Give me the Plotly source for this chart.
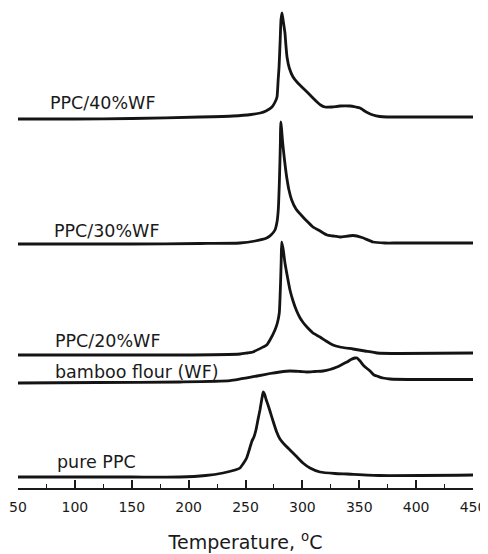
import plotly.graph_objects as go

# ---- data (temperature in °C, heat-flow signal in arbitrary units, curves stacked) ----
t_40 = [50, 100, 150, 210, 239, 255, 263, 268, 273.3, 276, 277.7, 278.7, 279.5, 280.5, 281.2, 282.1,
        283.3, 284.7, 285.5, 286.5, 288.5, 291.8, 296, 300.5, 305, 309.3, 312.9, 316, 319.9, 326, 333,
        341.9, 347, 350.7, 353.4, 357, 362.1, 368, 374.4, 386, 420, 450]
s_40 = [369, 369, 369.5, 371, 372, 373.5, 375, 377, 381, 386, 391, 408, 421, 448, 468, 475,
        466, 455, 443, 431, 420, 411, 405, 400, 395, 390, 386, 383, 381, 381, 382,
        382, 381, 380, 378, 375.5, 373, 371.5, 371, 371, 371, 371]

t_30 = [50, 150, 210, 245, 258.4, 268.6, 272.4, 275.9, 277.7, 278.8, 279.7, 280.3, 280.7, 280.9,
        281.6, 282.7, 284.3, 286.2, 288.2, 290.6, 294.4, 300.5, 304.8, 309.3, 315.5, 321.6, 326.9,
        333, 344.5, 352.4, 362.1, 372.6, 383.2, 450]
s_30 = [244, 244, 244.5, 245, 247, 250, 253, 258, 266, 278, 303, 328, 348, 366,
        360, 345, 328, 311, 298, 288, 279, 271, 266, 261, 257, 253, 252,
        251, 252.5, 250.5, 246, 245, 245, 245]

t_20 = [50, 192.4, 245.2, 251.3, 256.6, 265.4, 268.6, 271.5, 275.9, 278, 279.7, 280.9, 281.4, 281.8,
        283.2, 284.7, 286.9, 289.1, 291.8, 295, 298, 301, 304, 309.3, 315.5, 320.8, 326.9, 333, 344.5,
        355, 365.6, 385.8, 450]
s_20 = [133, 133, 134, 135, 136, 141, 143, 148, 158, 165, 175, 208, 228, 246,
        238, 225, 211, 198, 187, 177, 170, 165, 161, 155, 151, 147, 143, 141, 139,
        137, 135, 134.5, 135]

t_wf = [50, 120, 192.4, 236.4, 260.1, 271.5, 280.3, 289.1, 297.9, 304.1, 311.1, 318.1, 324.2, 330.4,
        334.8, 339.2, 342.7, 346.3, 348, 350.7, 354.2, 359.5, 363, 365.6, 370.9, 377, 403.4, 450]
s_wf = [105, 105.5, 106, 107.3, 112, 114.5, 116, 117, 116.5, 116, 116.5, 117, 118.5, 121,
        123.5, 126, 128.5, 130, 130, 127, 122, 117, 113, 112, 110, 109, 108.5, 108.5]

t_ppc = [50, 150, 192.4, 215, 230.2, 240.8, 245.2, 247.8, 251, 253.8, 255.7, 257.4, 259.2, 260.9,
         262.7, 264.5, 265.6, 266.7, 268, 269.8, 271.5, 274.2, 277.4, 280.3, 284.7, 289.1, 294.4,
         300.5, 306.7, 315.5, 328.7, 339.2, 368.2, 450]
s_ppc = [11, 11, 11, 12.5, 15, 18, 20, 24, 30, 40, 47, 51, 58, 68,
         78, 90, 96, 94, 89, 83, 77, 67, 56, 49, 43, 38, 32,
         25, 20, 16, 14.5, 14, 12.5, 13]

labels = ["PPC/40%WF", "PPC/30%WF", "PPC/20%WF", "bamboo flour (WF)", "pure PPC"]
label_x = [76.4, 80.0, 80.6, 80.6, 82.4]
label_y = [385, 257, 147, 116, 26]

x_ticks = [50, 100, 150, 200, 250, 300, 350, 400, 450]

series = [(t_40, s_40), (t_30, s_30), (t_20, s_20), (t_wf, s_wf), (t_ppc, s_ppc)]

fig = go.Figure()
for (tx, sy), name in zip(series, labels):
    fig.add_trace(go.Scatter(x=tx, y=sy, mode="lines", name=name,
                             line=dict(color="#141414", width=2.8, shape="spline", smoothing=0.5),
                             showlegend=False, hoverinfo="skip", cliponaxis=False))

for txt, lx, ly in zip(labels, label_x, label_y):
    fig.add_annotation(x=lx, y=ly, xref="x", yref="y", text=txt, showarrow=False,
                       xanchor="left", yanchor="middle",
                       font=dict(family="DejaVu Sans", size=17.5, color="#1a1a1a"))

fig.update_layout(
    width=480, height=546,
    margin=dict(l=10, r=15, t=0, b=66, pad=0),
    paper_bgcolor="white", plot_bgcolor="white",
    font=dict(family="DejaVu Sans", color="#1a1a1a"),
)
fig.update_xaxes(
    range=[50, 450], tickvals=x_ticks, ticktext=[str(v) for v in x_ticks],
    showline=True, linecolor="#1a1a1a", linewidth=1.5, mirror=False,
    ticks="inside", ticklen=8, tickwidth=1.5, tickcolor="#1a1a1a",
    minor=dict(ticks="inside", ticklen=4, tickwidth=1.2, tickcolor="#1a1a1a", dtick=25, tick0=50),
    showgrid=False, zeroline=False,
    tickfont=dict(family="DejaVu Sans", size=14, color="#1a1a1a"),
    ticklabelstandoff=5,
    title=dict(text="Temperature, <sup>o</sup>C", font=dict(family="DejaVu Sans", size=19, color="#1a1a1a"),
               standoff=22),
    automargin=False,
)
fig.update_yaxes(range=[0, 480], visible=False, showgrid=False, zeroline=False)

fig.write_html("out.html")
